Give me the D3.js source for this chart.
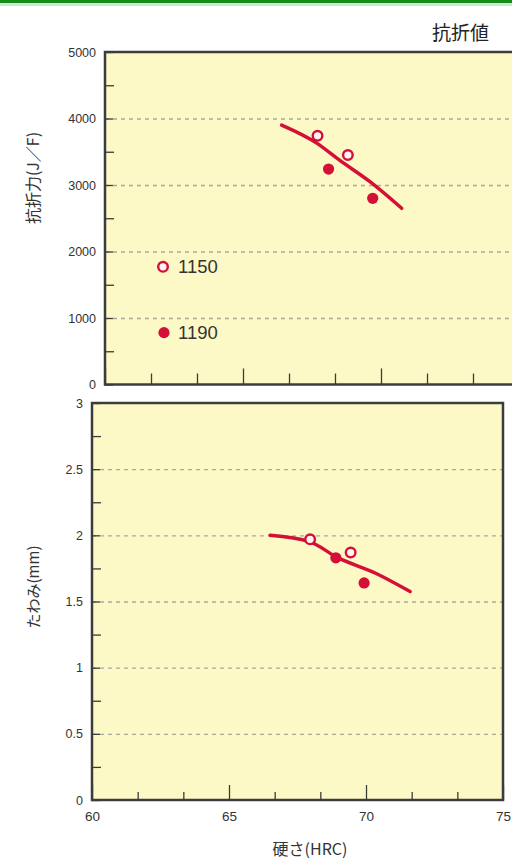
<!DOCTYPE html>
<html><head><meta charset="utf-8">
<script src="https://cdn.jsdelivr.net/npm/d3@7/dist/d3.min.js"></script>
<style>
html,body{margin:0;padding:0;background:#fff;}
svg{display:block;}
</style></head>
<body>
<script>
// ---- data ----
const xTicks = [60, 65, 70, 75];
const xMinorTicks = [61.667, 63.333, 66.667, 68.333, 71.667, 73.333];
const topYTicks = [0, 1000, 2000, 3000, 4000, 5000];
const topYMinor = [500, 1500, 2500, 3500, 4500];
const botYTicks = [0, 0.5, 1, 1.5, 2, 2.5, 3];
const botYMinor = [0.25, 0.75, 1.25, 1.75, 2.25, 2.75];

const series = ["1150", "1190"];
// 抗折力 (top chart)
const top1150X = [67.7, 68.8];
const top1150Y = [3740, 3450];
const top1190X = [68.1, 69.7];
const top1190Y = [3240, 2800];
const topFitX = [66.4, 67.67, 68.51, 69.6, 70.75];
const topFitY = [3900, 3630, 3370, 3050, 2650];
// たわみ (bottom chart)
const bot1150X = [67.96, 69.44];
const bot1150Y = [1.97, 1.87];
const bot1190X = [68.9, 69.93];
const bot1190Y = [1.83, 1.64];
const botFitX = [66.5, 67.96, 68.93, 70.39, 71.61];
const botFitY = [2.0, 1.95, 1.835, 1.71, 1.575];

const W = 512, H = 859;
const RED = "#d41037";
const FILL = "#fdf9c6";
const BORDER = "#3c3c3c";
const GRID = "#a9a9a0";
const TXT = "#333";
const numFont = "'Liberation Sans Narrow','Liberation Sans',Arial,sans-serif";
const cjkFont = "'Noto Sans CJK JP','Noto Sans CJK SC',sans-serif";

const svg = d3.select("body").append("svg").attr("width", W).attr("height", H);

// top green rule
svg.append("rect").attr("x",0).attr("y",0).attr("width",W).attr("height",3).attr("fill","#178a1c");
svg.append("rect").attr("x",0).attr("y",3).attr("width",W).attr("height",3).attr("fill","#c9ecc6");

// title
svg.append("text").attr("x",432).attr("y",40).attr("font-family",cjkFont)
  .attr("font-size",19).attr("fill","#222").text("抗折値");

function drawChart(cfg){
  const {x, y, yTicks, yMinor, yFmt, xLabels, px0, px1, py0, py1, sets, fitX, fitY, xMajorLen, xMinorLen} = cfg;
  const g = svg.append("g");
  g.append("rect").attr("x",px0).attr("y",py0).attr("width",px1-px0).attr("height",py1-py0)
    .attr("fill",FILL);
  // dashed grid
  const grid = g.append("g").attr("transform",`translate(${px0},0)`)
    .call(d3.axisRight(y).tickValues(yTicks.slice(1,-1)).tickSize(px1-px0).tickFormat(""));
  grid.select(".domain").remove();
  grid.selectAll("line").attr("stroke",GRID).attr("stroke-width",1.3).attr("stroke-dasharray","4,4");
  // inner y ticks
  const yt = g.append("g").attr("transform",`translate(${px0},0)`)
    .call(d3.axisRight(y).tickValues(yTicks).tickSize(8).tickFormat(""));
  yt.select(".domain").remove();
  yt.selectAll("line").attr("stroke",BORDER).attr("stroke-width",1.3);
  const ym = g.append("g").attr("transform",`translate(${px0},0)`)
    .call(d3.axisRight(y).tickValues(yMinor).tickSize(9).tickFormat(""));
  ym.select(".domain").remove();
  ym.selectAll("line").attr("stroke",BORDER).attr("stroke-width",1.3);
  // inner x ticks
  const xt = g.append("g").attr("transform",`translate(0,${py1})`)
    .call(d3.axisTop(x).tickValues(xTicks).tickSize(xMajorLen).tickFormat(""));
  xt.select(".domain").remove();
  xt.selectAll("line").attr("stroke",BORDER).attr("stroke-width",1.3);
  const xm = g.append("g").attr("transform",`translate(0,${py1})`)
    .call(d3.axisTop(x).tickValues(xMinorTicks).tickSize(xMinorLen).tickFormat(""));
  xm.select(".domain").remove();
  xm.selectAll("line").attr("stroke",BORDER).attr("stroke-width",1.3);
  // y labels
  const yl = g.append("g").attr("transform",`translate(${px0-6},0)`)
    .call(d3.axisLeft(y).tickValues(yTicks).tickSize(0).tickFormat(yFmt));
  yl.select(".domain").remove();
  yl.selectAll("text").attr("font-family",numFont).attr("font-size",12.5).attr("fill",TXT);
  // x labels
  if (xLabels){
    const xl = g.append("g").attr("transform",`translate(0,${py1+8})`)
      .call(d3.axisBottom(x).tickValues(xTicks).tickSize(0).tickFormat(d3.format("d")));
    xl.select(".domain").remove();
    xl.selectAll("text").attr("font-family",numFont).attr("font-size",13.5).attr("fill",TXT);
  }
  // border
  g.append("rect").attr("x",px0).attr("y",py0).attr("width",px1-px0).attr("height",py1-py0)
    .attr("fill","none").attr("stroke",BORDER).attr("stroke-width",2.5);
  // fit line
  const line = d3.line().x(d=>x(d[0])).y(d=>y(d[1])).curve(d3.curveMonotoneX);
  g.append("path").datum(fitX.map((v,i)=>[v,fitY[i]])).attr("d",line)
    .attr("fill","none").attr("stroke",RED).attr("stroke-width",3.5).attr("stroke-linecap","round");
  // points
  sets.forEach(s=>{
    g.selectAll(null).data(s.xs.map((v,i)=>[v,s.ys[i]])).join("circle")
      .attr("cx",d=>x(d[0])).attr("cy",d=>y(d[1]))
      .attr("r", s.open ? 4.8 : 5.6)
      .attr("fill", s.open ? "#fff4f4" : RED)
      .attr("stroke",RED).attr("stroke-width", s.open ? 2.4 : 0);
  });
  return g;
}

// top chart
const xTop = d3.scaleLinear().domain([60,75]).range([105,519]);
const yTop = d3.scaleLinear().domain([0,5000]).range([384.5,52]);
drawChart({x:xTop, y:yTop, yTicks:topYTicks, yMinor:topYMinor, yFmt:d3.format("d"),
  xLabels:false, px0:105, px1:530, py0:52, py1:384.5,
  sets:[{xs:top1150X, ys:top1150Y, open:true},{xs:top1190X, ys:top1190Y, open:false}],
  fitX:topFitX, fitY:topFitY, xMajorLen:16, xMinorLen:11});

// legend (in top chart)
const legX = 163;
svg.append("circle").attr("cx",legX).attr("cy",yTop(1770)).attr("r",4.8)
  .attr("fill","#fff4f4").attr("stroke",RED).attr("stroke-width",2.4);
svg.append("text").attr("x",legX+15).attr("y",yTop(1770)+6.5).attr("font-family","'Liberation Sans',Arial,sans-serif")
  .attr("font-size",18.5).attr("fill",TXT).text(series[0]);
svg.append("circle").attr("cx",legX+1).attr("cy",yTop(780)).attr("r",5.6).attr("fill",RED);
svg.append("text").attr("x",legX+15).attr("y",yTop(780)+6.5).attr("font-family","'Liberation Sans',Arial,sans-serif")
  .attr("font-size",18.5).attr("fill",TXT).text(series[1]);

// bottom chart
const xBot = d3.scaleLinear().domain([60,75]).range([92,503]);
const yBot = d3.scaleLinear().domain([0,3]).range([800,403]);
drawChart({x:xBot, y:yBot, yTicks:botYTicks, yMinor:botYMinor, yFmt:d=>String(d),
  xLabels:true, px0:92, px1:503, py0:403, py1:800,
  sets:[{xs:bot1150X, ys:bot1150Y, open:true},{xs:bot1190X, ys:bot1190Y, open:false}],
  fitX:botFitX, fitY:botFitY, xMajorLen:15, xMinorLen:8});

// axis titles
svg.append("text").attr("transform","translate(39,178) rotate(-90)").attr("text-anchor","middle")
  .attr("font-family",cjkFont).attr("font-size",16).attr("fill",TXT).text("抗折力(J／F)");
svg.append("text").attr("transform","translate(39,587) rotate(-90)").attr("text-anchor","middle")
  .attr("font-family",cjkFont).attr("font-size",15).attr("fill",TXT).text("たわみ(mm)");
svg.append("text").attr("x",310).attr("y",855).attr("text-anchor","middle")
  .attr("font-family",cjkFont).attr("font-size",16).attr("fill",TXT).text("硬さ(HRC)");
</script>
</body></html>
